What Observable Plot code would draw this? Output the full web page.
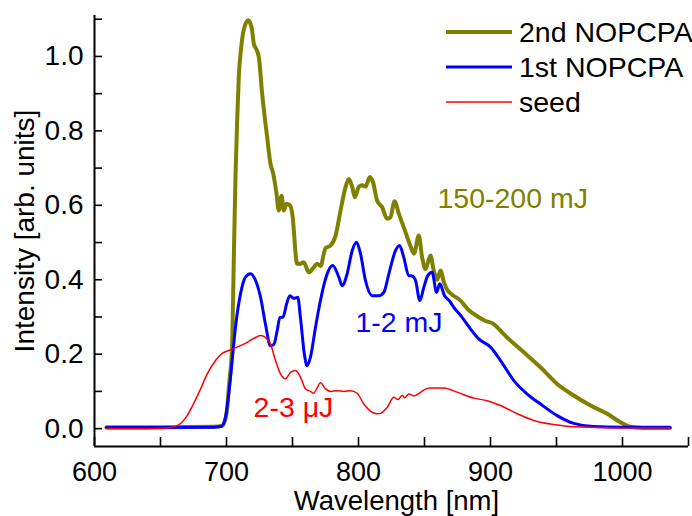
<!DOCTYPE html>
<html>
<head>
<meta charset="utf-8">
<script src="https://cdn.jsdelivr.net/npm/d3@7"></script>
<script src="https://cdn.jsdelivr.net/npm/@observablehq/plot@0.6"></script>
<style>
  html, body { margin: 0; padding: 0; background: #fff; }
  #chart { width: 692px; height: 516px; overflow: hidden; }
</style>
</head>
<body>
<div id="chart"></div>
<script>
// ---- Data ----
const seriesNames = ["2nd NOPCPA", "1st NOPCPA", "seed"];
const seriesColors = ["#808000", "#0000ff", "#ff0000"];
const seriesWidths = [4, 3, 1.5];
const annotationTexts = ["150-200 mJ", "1-2 mJ", "2-3 μJ"];
const annotationX = [859.8, 797.7, 720.5];
const annotationY = [0.618, 0.283, 0.057];

// 2nd NOPCPA
const wl2nd = [609, 650, 690, 697, 700, 702, 704.3, 705.5, 706.8, 708, 709.3, 711, 713, 716.4, 718, 719.4, 720.7, 722.5, 724.5, 727, 730.8, 733.3, 735.4, 737.9, 739.6, 741.7, 743.4, 745.5, 748, 749.8, 753.5, 756, 758.5, 762.4, 766.2, 768.7, 771.2, 775, 778.8, 782.6, 786.4, 790.2, 792.7, 795.2, 797.2, 800.3, 802.8, 805.3, 808.6, 811, 814.1, 817.9, 821.7, 824.2, 827.3, 830.6, 835.6, 839.4, 842, 845.7, 848.2, 850.8, 854.5, 857, 859.6, 862.1, 864.7, 867.2, 871, 877.3, 883.6, 890, 896, 902.5, 907, 912.6, 925.3, 937.9, 950.5, 963.1, 975.8, 988.4, 998.5, 1006, 1015, 1036];
const int2nd = [0.004, 0.004, 0.005, 0.008, 0.04, 0.12, 0.228, 0.45, 0.676, 0.82, 0.944, 1.02, 1.07, 1.097, 1.09, 1.07, 1.034, 1.02, 0.998, 0.90, 0.783, 0.712, 0.685, 0.631, 0.586, 0.626, 0.586, 0.604, 0.6, 0.578, 0.443, 0.443, 0.447, 0.42, 0.434, 0.443, 0.437, 0.485, 0.492, 0.518, 0.586, 0.649, 0.671, 0.65, 0.622, 0.65, 0.654, 0.65, 0.676, 0.662, 0.613, 0.595, 0.564, 0.568, 0.611, 0.577, 0.528, 0.49, 0.47, 0.519, 0.46, 0.429, 0.465, 0.425, 0.40, 0.425, 0.393, 0.373, 0.36, 0.344, 0.318, 0.302, 0.29, 0.281, 0.265, 0.245, 0.205, 0.165, 0.12, 0.089, 0.062, 0.04, 0.017, 0.005, 0.002, 0.002];

// 1st NOPCPA
const wl1st = [609, 650, 690, 696, 699.2, 701.7, 704.3, 706.8, 710.6, 714.4, 718.2, 722, 725.8, 729.5, 733.3, 735.8, 738.4, 740.4, 742.9, 745.5, 748, 751, 754, 756, 759, 761.1, 763.6, 767.4, 771.2, 776.3, 780.4, 785.1, 787.6, 791.4, 795.2, 798.5, 801.5, 805.3, 810.4, 815.4, 819.2, 823, 828, 831.1, 834.3, 838.1, 840.6, 843.2, 846.5, 849.5, 852.5, 855.8, 859.1, 861.6, 865.2, 868.7, 872.2, 878.5, 884.8, 891.1, 900, 907.6, 917.7, 927.8, 937.9, 950.5, 963.1, 978, 1000, 1036];
const int1st = [0.003, 0.003, 0.004, 0.006, 0.03, 0.093, 0.183, 0.272, 0.362, 0.407, 0.416, 0.398, 0.353, 0.281, 0.223, 0.226, 0.263, 0.299, 0.30, 0.335, 0.357, 0.35, 0.353, 0.299, 0.20, 0.169, 0.192, 0.272, 0.345, 0.416, 0.438, 0.407, 0.384, 0.416, 0.478, 0.501, 0.47, 0.398, 0.357, 0.357, 0.366, 0.416, 0.478, 0.492, 0.46, 0.411, 0.41, 0.398, 0.344, 0.38, 0.411, 0.42, 0.366, 0.389, 0.357, 0.344, 0.326, 0.299, 0.268, 0.241, 0.219, 0.183, 0.129, 0.093, 0.066, 0.035, 0.014, 0.006, 0.004, 0.004];

// seed
const wlSeed = [609, 640, 655, 662.6, 670.2, 675.2, 680.3, 685.4, 691.7, 697, 701.7, 708.1, 715.7, 722, 725.8, 729.5, 733.3, 737.1, 740.9, 744.7, 748.5, 752.3, 756.1, 759.8, 763.6, 766, 768, 771.2, 775, 779, 783.8, 789, 793.9, 799, 804, 810.4, 814.1, 816.7, 821.7, 826.8, 830, 833, 835, 838.1, 842, 846, 850, 854.5, 864.6, 874.7, 887.4, 897.5, 907.6, 920.2, 932.8, 948, 963, 1000, 1036];
const intSeed = [0, 0, 0.002, 0.008, 0.035, 0.068, 0.106, 0.147, 0.183, 0.203, 0.21, 0.219, 0.232, 0.245, 0.25, 0.245, 0.228, 0.183, 0.147, 0.134, 0.151, 0.156, 0.138, 0.107, 0.1, 0.095, 0.105, 0.123, 0.107, 0.10, 0.102, 0.10, 0.102, 0.095, 0.066, 0.044, 0.04, 0.041, 0.057, 0.084, 0.078, 0.09, 0.083, 0.093, 0.088, 0.095, 0.105, 0.109, 0.109, 0.098, 0.082, 0.075, 0.062, 0.04, 0.022, 0.011, 0.005, 0.002, 0.002];

// Axes ticks
const xTickValues = [600, 650, 700, 750, 800, 850, 900, 950, 1000, 1050];
const xTickLabels = [600, 700, 800, 900, 1000];
const yTickValues = [0, 0.1, 0.2, 0.3, 0.4, 0.5, 0.6, 0.7, 0.8, 0.9, 1.0, 1.1];
const yTickLabels = [0, 0.2, 0.4, 0.6, 0.8, 1.0];
const xLabel = "Wavelength [nm]";
const yLabel = "Intensity [arb. units]";
const xDomain = [600, 1050];
const yDomain = [-0.048, 1.11];

// ---- Build ----
const toRows = (wl, iv) => wl.map((w, i) => ({w, v: iv[i]}));
const seriesData = [toRows(wl2nd, int2nd), toRows(wl1st, int1st), toRows(wlSeed, intSeed)];
const annotations = annotationTexts.map((t, i) => ({t, x: annotationX[i], y: annotationY[i], c: seriesColors[i]}));
const font = "'Liberation Sans', Arial, Helvetica, sans-serif";

const chart = Plot.plot({
  width: 692,
  height: 516,
  marginLeft: 94,
  marginRight: 4,
  marginTop: 15,
  marginBottom: 70,
  style: {fontFamily: font, background: "#fff", color: "#000", overflow: "visible"},
  x: {domain: xDomain},
  y: {domain: yDomain},
  marks: [
    Plot.axisX({ticks: xTickValues, tickSize: -9, tickFormat: () => "", strokeWidth: 1.6, label: null}),
    Plot.axisX({ticks: xTickLabels, tickSize: 0, tickPadding: 15, fontSize: 27, label: null, tickFormat: d => String(d)}),
    Plot.axisY({ticks: yTickValues, tickSize: -8, tickFormat: () => "", strokeWidth: 1.6, label: null}),
    Plot.axisY({ticks: yTickLabels, tickSize: 0, tickPadding: 11, fontSize: 28, label: null, tickFormat: d => d.toFixed(1)}),
    Plot.ruleX([xDomain[0]], {stroke: "#000", strokeWidth: 2}),
    Plot.ruleY([yDomain[0]], {stroke: "#000", strokeWidth: 2}),
    ...seriesData.map((d, i) => Plot.line(d, {x: "w", y: "v", stroke: seriesColors[i], strokeWidth: seriesWidths[i], curve: "monotone-x"})),
    Plot.text(annotations, {x: "x", y: "y", text: "t", fill: "c", textAnchor: "start", fontSize: 28.5}),
    Plot.text([xLabel], {frameAnchor: "bottom", lineAnchor: "middle", textAnchor: "middle", dy: 55, dx: 5, fontSize: 27.5, fill: "#000"}),
    Plot.text([yLabel], {frameAnchor: "left", lineAnchor: "middle", textAnchor: "middle", dx: -69, rotate: -90, fontSize: 28, fill: "#000"})
  ]
});

document.getElementById("chart").appendChild(chart);

// Legend (top right, inside the plot area)
const svg = d3.select(chart);
const leg = svg.append("g")
  .attr("font-family", font)
  .attr("text-anchor", "start");
const legRowY = [32, 67, 102];
seriesNames.forEach((name, i) => {
  leg.append("line")
    .attr("x1", 446).attr("x2", 512)
    .attr("y1", legRowY[i]).attr("y2", legRowY[i])
    .attr("stroke", seriesColors[i]).attr("stroke-width", seriesWidths[i]);
  leg.append("text")
    .attr("x", 519).attr("y", legRowY[i]).attr("dy", "0.36em")
    .style("font-size", "28.5px")
    .attr("text-anchor", "start")
    .attr("fill", "#000").text(name);
});
</script>
</body>
</html>
